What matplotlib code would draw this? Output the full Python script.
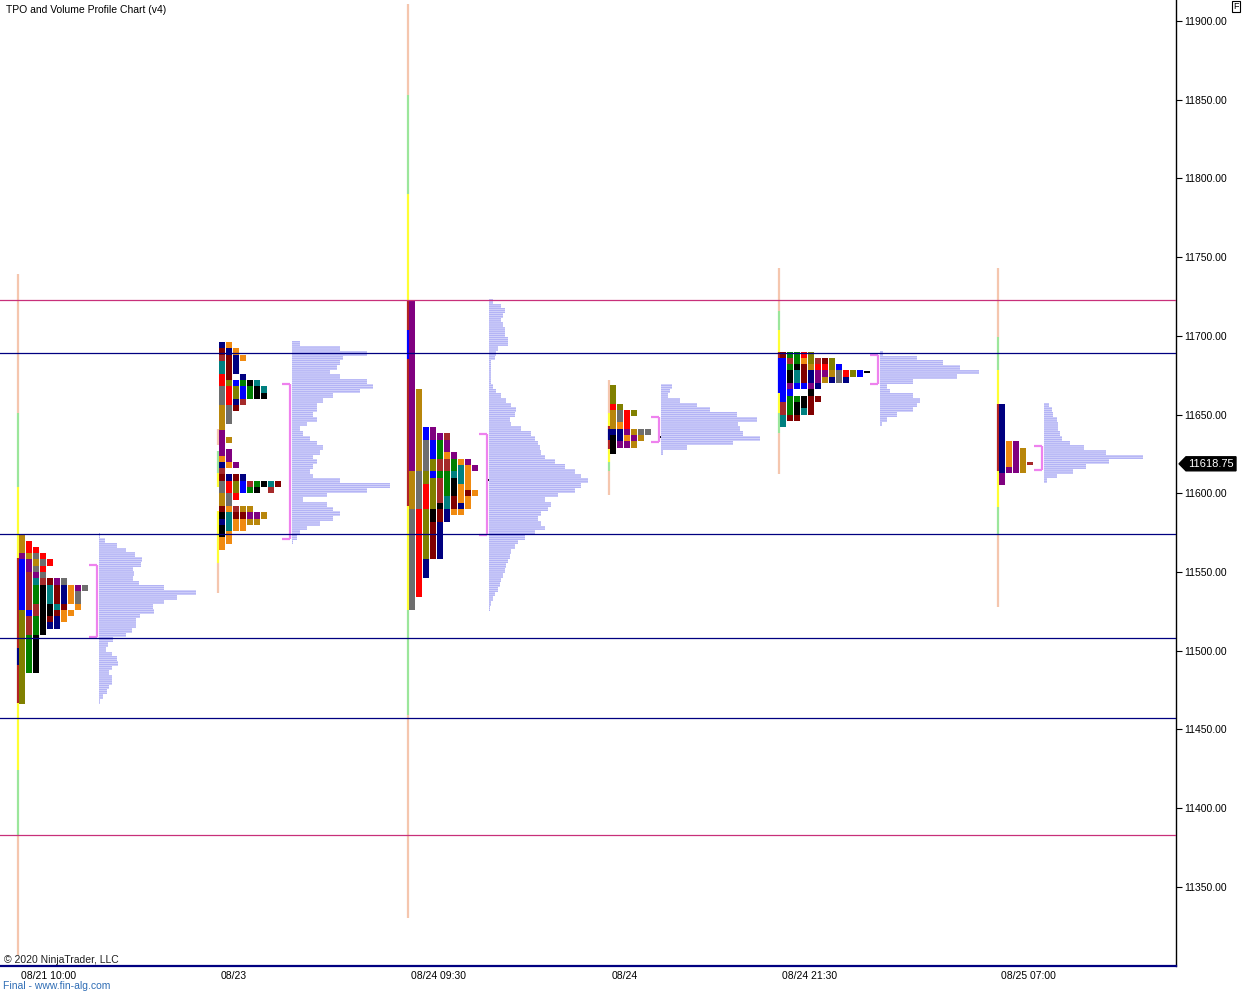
import matplotlib

matplotlib.use("Agg")

import matplotlib.pyplot as plt
from matplotlib.patches import Polygon
from matplotlib.transforms import blended_transform_factory

plt.rcParams["font.family"] = ["Liberation Sans", "DejaVu Sans"]
plt.rcParams["hatch.linewidth"] = 0.6

# one letter per TPO row (4 points high), "." = empty row
TPO_COLORS = {
    "R": "#FF0000", "B": "#0000FF", "G": "#008000", "K": "#000000",
    "O": "#F08A10", "P": "#800080", "T": "#008080", "Y": "#6E6E6E",
    "L": "#808000", "M": "#800000", "N": "#000080", "D": "#B8860B",
    "W": "#A52A2A",
}
RANGE_COLORS = {
    "s": "#F5C6AE", "y": "#FFFF33", "g": "#9BE69B",
    "W": "#B22222", "N": "#000080", "B": "#0000FF",
}

TPO_ROW = 4.0
VOL_STEP = 3.0

PRICE_TICKS = [11350, 11400, 11450, 11500, 11550, 11600, 11650, 11700, 11750, 11800, 11850, 11900]
TIME_LABELS = ["08/21 10:00", "08/23", "08/24 09:30", "08/24", "08/24 21:30", "08/25 07:00"]
NAVY_LEVELS = [11689, 11574, 11508, 11457]
PINK_LEVELS = [11723, 11383]
LAST_PRICE = 11618.75

# ---- session 1 ----
S1_TPO_TOP = 11574
S1_TPO = [
    (0, "DDDPBBBBBBBBLLLLLLLLLLLLLLL"),
    (1, "RRDPPWWWWWWBWWWGGGGGG"),
    (2, "RYDYPTGGGWWGGGKKKKKK"),
    (3, "RYRYWKKKKKKKK"),
    (4, "R..MTTTKKMN"),
    (7, "PMMMTMNN"),
    (7, "YNNNMOO"),
    (8, "OOO.O"),
    (8, "PYYO"),
    (8, "Y"),
]
S1_VOL_TOP = 11573
S1_VOL = [1, 6, 18, 27, 36, 43, 42, 34, 35, 34, 40, 65, 97, 78, 65, 54, 55, 41,
          37, 37, 33, 27, 14, 9, 7, 13, 18, 19, 13, 10, 13, 13, 10, 8, 4, 1]
S1_VA = (11554.5, 11508.8)
S1_RANGE = [(11739, 11651, "s"), (11651, 11604, "g"), (11604, 11559, "y"),
            (11559, 11502, "W"), (11502, 11491, "N"), (11491, 11467, "W"),
            (11467, 11424, "y"), (11424, 11383, "g"), (11383, 11307, "s")]
S1_MARK = None

# ---- session 2 ----
S2_TPO_TOP = 11696
S2_TPO = [
    (0, "NMWTTRRYYYDDDDPPPPONWMYYDDMKNKKOO"),
    (0, "ONMMMMLRRRYYY..D.PPO.NRRYYOTTTOO"),
    (1, "ONNN.BLLNM........P.MLLR.WMOO"),
    (2, "O..NGBBW...........NBB..DMOO"),
    (6, "KGG.............WG..DPD"),
    (6, "TKK.............GK...PD"),
    (7, "TK.............K....D"),
    (22, "TW"),
    (22, "M"),
]
S2_VOL_TOP = 11695
S2_VOL = [8, 48, 75, 51, 48, 45, 38, 48, 75, 81, 68, 41, 31, 25, 25, 21, 25, 15,
          8, 11, 18, 25, 31, 28, 21, 25, 21, 18, 21, 48, 98, 75, 35, 11, 35, 41,
          48, 41, 28, 15, 8, 5, 1]
S2_VA = (11669.4, 11571.0)
S2_RANGE = [(11641, 11631, "s"), (11627, 11613, "g"), (11613, 11604, "y"),
            (11589, 11556, "y"), (11556, 11537, "s")]
S2_MARK = None

# ---- session 3 ----
S3_TPO_TOP = 11722
S3_TPO = [
    (0, "PPPPPPPPPPPPPPPPPPPPPPPPPPPDDDDDDYYYYYYYYYYYYYYYY"),
    (14, "DDDDDDDDDDDDDYYYYYYRRRRRRRRRRRRRR"),
    (20, "BBYYYYYLLRRRRLLLLLLLLNNN"),
    (20, "PPBBBLLBLLLLLKKMMMMMM"),
    (21, "PGGGWWGWWWWKMMNNNNNN"),
    (21, "WPPOWWGGGGTTNN"),
    (24, "PGGTKKKMMO"),
    (25, "OTTTOOONO"),
    (25, "POOOOMOO"),
    (26, "P...O"),
]
S3_VOL_TOP = 11722
S3_VOL = [4, 12, 16, 14, 12, 14, 16, 16, 19, 19, 9, 7, 6, 2, 2, 2, 2, 2, 4, 7,
          12, 17, 22, 27, 26, 21, 22, 32, 42, 46, 49, 51, 52, 56, 66, 76, 86, 92,
          99, 92, 86, 69, 56, 62, 59, 52, 49, 52, 56, 46, 36, 29, 26, 22, 21, 19,
          17, 16, 14, 12, 11, 9, 6, 4, 2, 1]
S3_VA = (11637.5, 11573.5)
S3_RANGE = [(11911, 11853, "s"), (11853, 11790, "g"), (11790, 11722, "y"),
            (11722, 11704, "W"), (11704, 11685, "B"), (11685, 11592, "W"),
            (11592, 11526, "y"), (11526, 11459, "g"), (11459, 11330, "s")]
S3_MARK = (11608.5, "K")

# ---- session 4 ----
S4_TPO_TOP = 11669
S4_TPO = [
    (0, "LLLRDDDNKKK"),
    (3, "LYYONNP"),
    (4, "RRRPOP"),
    (4, "L..DPD"),
    (7, "YD"),
    (7, "Y"),
]
S4_VOL_TOP = 11668
S4_VOL = [11, 9, 7, 19, 36, 49, 76, 96, 77, 79, 82, 99, 72, 26, 2]
S4_VA = (11648.7, 11632.8)
S4_RANGE = [(11672, 11651, "s"), (11651, 11643, "y"), (11643, 11641, "W"),
            (11641, 11634, "N"), (11634, 11628, "W"), (11628, 11620, "y"),
            (11620, 11614, "g"), (11614, 11599, "s")]
S4_MARK = (11635.8, "K")

# ---- session 5 ----
S5_TPO_TOP = 11690
S5_TPO = [
    (0, "MBBBBBBBWWTT"),
    (0, "GWGKKPBGGGM"),
    (0, "GGKTTB.GKKM"),
    (0, "ROMMMB.KKT"),
    (0, "LLDNNPKMMM"),
    (1, "WRPPN.M"),
    (1, "MRPD"),
    (1, "LLDN"),
    (2, "BYY"),
    (3, "RN"),
    (3, "L"),
    (3, "B"),
]
S5_VOL_TOP = 11689
S5_VOL = [3, 37, 63, 80, 99, 77, 33, 7, 10, 33, 40, 37, 33, 17, 7, 2]
S5_VA = (11688.0, 11669.6)
S5_RANGE = [(11743, 11716, "s"), (11716, 11704, "g"), (11704, 11690, "y"),
            (11690, 11686, "W"), (11686, 11664, "B"), (11664, 11651, "y"),
            (11651, 11638, "g"), (11638, 11612, "s")]
S5_MARK = (11677.0, "K")

# ---- session 6 ----
S6_TPO_TOP = 11657
S6_TPO = [
    (0, "NNNNNNNNNNNPP"),
    (6, "OOOOP"),
    (6, "PPPPP"),
    (7, "DDDD"),
]
S6_VOL_TOP = 11656
S6_VOL = [5, 8, 9, 13, 14, 14, 16, 18, 26, 40, 62, 99, 65, 42, 29, 13, 3]
S6_VA = (11630.0, 11614.8)
S6_RANGE = [(11743, 11699, "s"), (11699, 11678, "g"), (11678, 11657, "y"),
            (11657, 11614, "W"), (11614, 11591, "y"), (11591, 11574, "g"),
            (11574, 11528, "s")]
S6_MARK = (LAST_PRICE, "W")

# layout (x axis is in screen-like units, 0..1176)
X_MAX = 1176
SESSION_X = [17, 217, 407, 608, 778, 997]
VOLUME_X = [99, 292, 489, 661, 880, 1044]
MARK_COL = [None, None, 11, 7, 12, 4]
COL_STEP = 7
COL_W = 6


def draw_session(ax, x0, vol_x, mark_col, tpo_top, tpo, vol_top, vol, va, rng, mark):
    # range / extension line
    for hi, lo, code in rng:
        ax.vlines(x0 + 1, lo, hi, color=RANGE_COLORS[code], lw=1.6, zorder=2)

    # TPO columns
    lefts, bottoms, colors = [], [], []
    for k, (start, letters) in enumerate(tpo):
        for j, c in enumerate(letters):
            if c == ".":
                continue
            row = start + j
            lefts.append(x0 + 2 + k * COL_STEP)
            bottoms.append(tpo_top - (row + 1) * TPO_ROW)
            colors.append(TPO_COLORS[c])
    ax.bar(lefts, TPO_ROW, width=COL_W, bottom=bottoms, color=colors,
           align="edge", linewidth=0, zorder=3)

    if mark is not None:
        price, code = mark
        ax.bar(x0 + 2 + mark_col * COL_STEP, 1.8, width=COL_W, bottom=price - 0.9,
               color=TPO_COLORS[code], align="edge", linewidth=0, zorder=3)

    # volume profile (striped like the thin per-tick lines of the original)
    levels = [vol_top - i * VOL_STEP for i in range(len(vol))]
    ax.barh(levels, vol, height=VOL_STEP, left=vol_x, facecolor="#B3B3F5",
            edgecolor="#D9D9FB", hatch="--------", linewidth=0, zorder=3)

    # value area bracket
    va_hi, va_lo = va
    bx = vol_x - 2
    ax.vlines(bx, va_lo, va_hi, color="#EE82EE", lw=1.6, zorder=4)
    ax.hlines([va_hi, va_lo], bx - 8, bx, color="#EE82EE", lw=1.6, zorder=4)


def main() -> None:
    fig = plt.figure(figsize=(12.44, 9.94), dpi=100)
    ax = fig.add_axes([0, 28 / 994, X_MAX / 1244, 966 / 994])
    ax.set_xlim(0, X_MAX)
    ax.set_ylim(11299.8, 11913.3)

    sessions = [
        (S1_TPO_TOP, S1_TPO, S1_VOL_TOP, S1_VOL, S1_VA, S1_RANGE, S1_MARK),
        (S2_TPO_TOP, S2_TPO, S2_VOL_TOP, S2_VOL, S2_VA, S2_RANGE, S2_MARK),
        (S3_TPO_TOP, S3_TPO, S3_VOL_TOP, S3_VOL, S3_VA, S3_RANGE, S3_MARK),
        (S4_TPO_TOP, S4_TPO, S4_VOL_TOP, S4_VOL, S4_VA, S4_RANGE, S4_MARK),
        (S5_TPO_TOP, S5_TPO, S5_VOL_TOP, S5_VOL, S5_VA, S5_RANGE, S5_MARK),
        (S6_TPO_TOP, S6_TPO, S6_VOL_TOP, S6_VOL, S6_VA, S6_RANGE, S6_MARK),
    ]
    for i, s in enumerate(sessions):
        draw_session(ax, SESSION_X[i], VOLUME_X[i], MARK_COL[i], *s)

    for lvl in NAVY_LEVELS:
        ax.axhline(lvl, color="#000080", lw=0.9, zorder=5)
    for lvl in PINK_LEVELS:
        ax.axhline(lvl, color="#C8307A", lw=0.9, zorder=5)

    # axes styling
    for side in ("left", "top"):
        ax.spines[side].set_visible(False)
    ax.spines["right"].set_color("black")
    ax.spines["right"].set_linewidth(1.0)
    ax.spines["bottom"].set_color("#000080")
    ax.spines["bottom"].set_linewidth(1.6)

    ax.yaxis.tick_right()
    ax.set_yticks(PRICE_TICKS)
    ax.set_yticklabels([f"{p:.2f}" for p in PRICE_TICKS])
    ax.tick_params(axis="y", direction="out", length=4, width=0.8, pad=2,
                   labelsize=7.5, colors="black")

    ax.set_xticks([x + 4 for x in SESSION_X])
    ax.set_xticklabels(TIME_LABELS, ha="left")
    ax.tick_params(axis="x", length=0, pad=3.5, labelsize=7.5)

    # last price flag
    trans = blended_transform_factory(ax.transAxes, ax.transData)
    h = 4.45
    flag = Polygon([(1.0026, LAST_PRICE), (1.0085, LAST_PRICE + h), (1.0510, LAST_PRICE + h),
                    (1.0510, LAST_PRICE - h), (1.0085, LAST_PRICE - h)],
                   closed=True, facecolor="black", edgecolor="black",
                   transform=trans, clip_on=False, zorder=6)
    ax.add_patch(flag)
    ax.text(1.0300, LAST_PRICE, f"{LAST_PRICE:.2f}", transform=trans, color="white",
            fontsize=8, ha="center", va="center", zorder=7, clip_on=False)

    # texts
    fig.text(6 / 1244, 1 - 10 / 994, "TPO and Volume Profile Chart (v4)", fontsize=7.5,
             va="center", ha="left")
    ax.text(0.003, 0.0065, "\u00a9 2020 NinjaTrader, LLC", transform=ax.transAxes,
            fontsize=7.5, va="center", ha="left", color="#202020")
    fig.text(3 / 1244, 1 - 986 / 994, "Final - www.fin-alg.com", fontsize=7.5,
             va="center", ha="left", color="#2F6DB5")
    fig.text(1236 / 1244, 1 - 6.5 / 994, "F", fontsize=6.5, ha="center", va="center",
             bbox=dict(boxstyle="square,pad=0.15", facecolor="white", edgecolor="black",
                       linewidth=0.8))

    fig.savefig("out.png", dpi=100)
    plt.close(fig)


if __name__ == "__main__":
    main()
